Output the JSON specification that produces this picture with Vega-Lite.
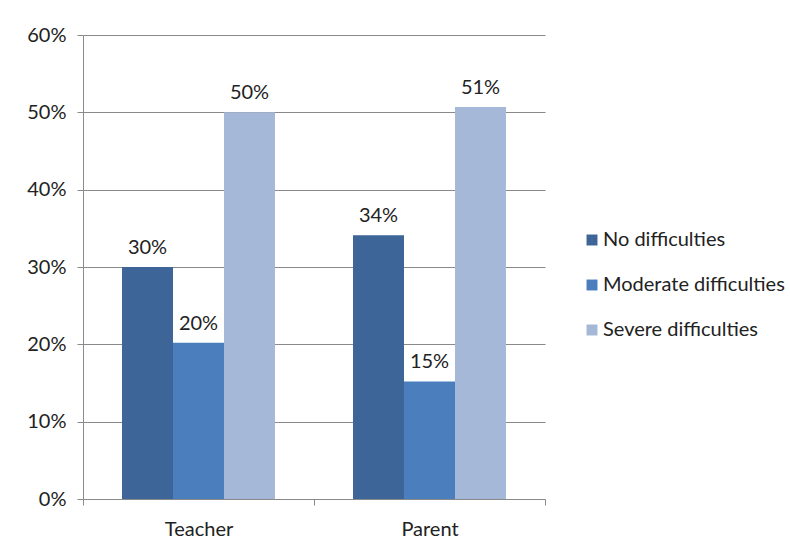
{
  "$schema": "https://vega.github.io/schema/vega-lite/v6.json",
  "width": 462,
  "height": 464,
  "autosize": {"type": "none"},
  "padding": {"left": 83, "top": 35, "right": 245, "bottom": 60},
  "background": "white",
  "config": {
    "view": {"stroke": null},
    "font": "Lato",
    "axis": {"labelFont": "Lato", "labelColor": "#222222", "labelFontSize": 20}
  },
  "data": {
    "values": [
      {"rater": "Teacher", "group": "No difficulties", "value": 0.30},
      {"rater": "Teacher", "group": "Moderate difficulties", "value": 0.202},
      {"rater": "Teacher", "group": "Severe difficulties", "value": 0.50},
      {"rater": "Parent", "group": "No difficulties", "value": 0.341},
      {"rater": "Parent", "group": "Moderate difficulties", "value": 0.152},
      {"rater": "Parent", "group": "Severe difficulties", "value": 0.507}
    ]
  },
  "encoding": {
    "x": {
      "field": "rater", "type": "nominal", "sort": ["Teacher", "Parent"],
      "scale": {"paddingInner": 0, "paddingOuter": 0},
      "axis": {"title": null, "labelAngle": 0, "tickBand": "extent", "domainColor": "#8a8a8a", "tickColor": "#8a8a8a", "tickSize": 6, "labelPadding": 14, "grid": false}
    },
    "xOffset": {
      "field": "group", "type": "nominal",
      "sort": ["No difficulties", "Moderate difficulties", "Severe difficulties"],
      "scale": {"paddingInner": 0, "paddingOuter": 0.765}
    },
    "y": {
      "field": "value", "type": "quantitative",
      "scale": {"domain": [0, 0.6], "nice": false},
      "axis": {"title": null, "format": ".0%", "values": [0, 0.1, 0.2, 0.3, 0.4, 0.5, 0.6], "grid": true, "gridColor": "#8a8a8a", "gridWidth": 1, "domainColor": "#8a8a8a", "tickColor": "#8a8a8a", "tickSize": 6, "labelPadding": 11}
    }
  },
  "layer": [
    {
      "mark": {"type": "bar"},
      "encoding": {
        "color": {
          "field": "group", "type": "nominal",
          "sort": ["No difficulties", "Moderate difficulties", "Severe difficulties"],
          "scale": {"domain": ["No difficulties", "Moderate difficulties", "Severe difficulties"], "range": ["#3d6598", "#4a7ebd", "#a6b8d8"]},
          "legend": {
            "title": null, "orient": "none", "legendX": 499, "legendY": 195,
            "symbolType": "square", "symbolSize": 120, "symbolStrokeWidth": 0,
            "labelFont": "Lato", "labelFontSize": 20, "labelColor": "#222222",
            "labelLimit": 300, "rowPadding": 25, "labelOffset": 1
          }
        }
      }
    },
    {
      "mark": {"type": "text", "baseline": "bottom", "dy": -9, "font": "Lato", "fontSize": 20, "color": "#222222"},
      "encoding": {
        "text": {"field": "value", "type": "quantitative", "format": ".0%"}
      }
    }
  ]
}
